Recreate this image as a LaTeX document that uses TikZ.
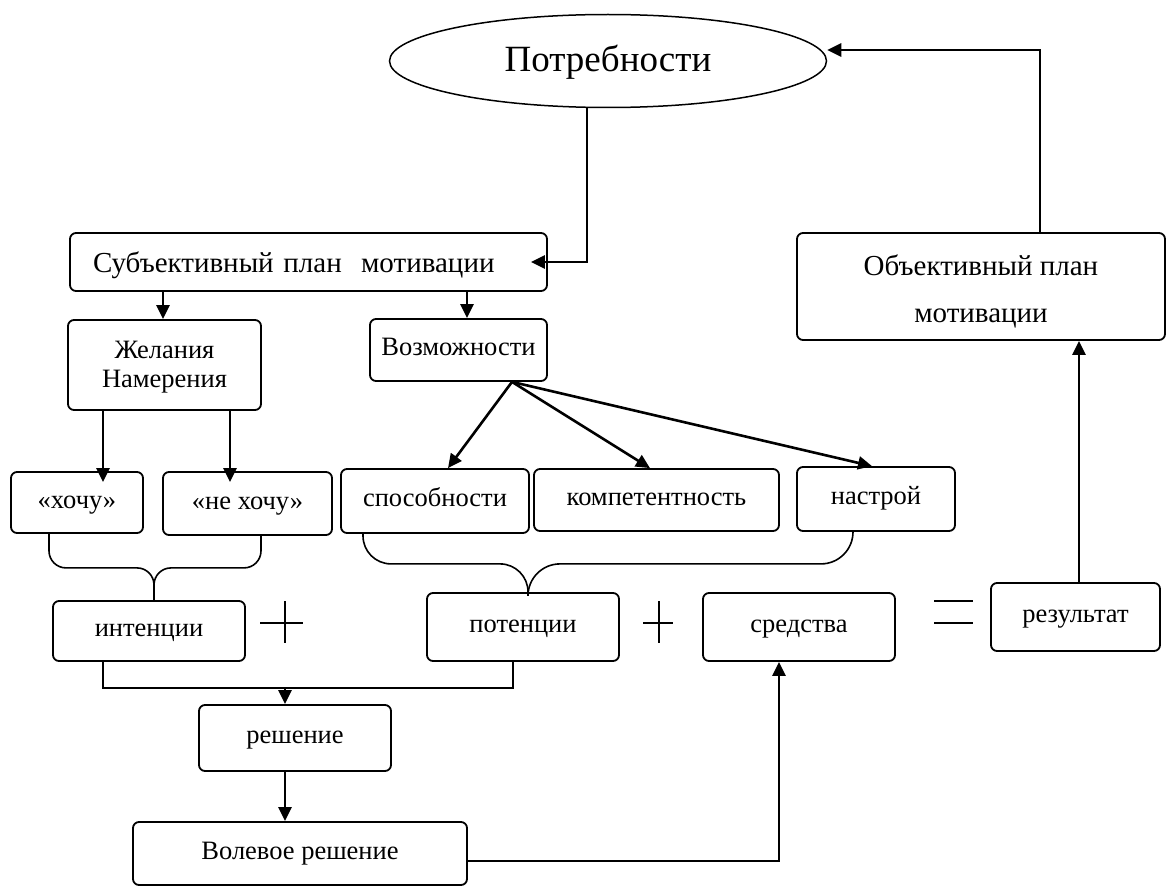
\documentclass[tikz,border=0pt]{standalone}
\usepackage{fontspec}
\setmainfont{Liberation Serif}
\usetikzlibrary{shapes.geometric}
\usetikzlibrary{arrows.meta}
\tikzset{
>={Triangle[length=14pt,width=13pt]}, % filled arrow tips
my node/.style={inner sep=0pt,font=\fontsize{26.5}{29}\selectfont},
my box/.style={draw,my node,rectangle,rounded corners=6pt,line width=1.8pt,align=center},
my label/.style={my box,text height=18pt,text depth=7pt},
my oval/.style={draw,my node,ellipse,line width=1.5pt,font=\fontsize{37}{40}\selectfont,
  text height=24pt,text depth=2pt},
my arrow/.style={->,line width=2.6pt},
my line/.style={line width=2pt},
my brace/.style={line width=1.6pt,rounded corners=#1},
my sign/.style={line width=1.6pt},
}

\begin{document}
\begin{tikzpicture}[x=1pt,y=-1pt]
\useasboundingbox (0,0) rectangle (1168,888);
% top row
\node[my oval,minimum width=437pt,minimum height=93pt] (need) at (608,61) {Потребности};
\node[my box,text width=431pt,inner xsep=23pt,align=left,minimum height=58pt,
  font=\fontsize{29}{32}\selectfont,text height=20pt,text depth=0pt] (subj) at (308.5,262) {Субъективный план\ \ мотивации};
\node[my box,minimum width=368pt,minimum height=107pt,font=\fontsize{29}{47}\selectfont,
  text height=71pt,text depth=0pt] (obj) at (981,286.5) {Объективный план\\мотивации};
% second row
\node[my box,minimum width=193pt,minimum height=90pt,text height=44pt,text depth=0pt] (wish) at (164.5,365) {Желания\\Намерения};
\node[my label,minimum width=177pt,minimum height=62pt] (poss) at (458.5,350) {Возможности};
% third row
\node[my label,minimum width=132pt,minimum height=61pt] (want) at (77,502.5) {«хочу»};
\node[my label,minimum width=169pt,minimum height=63pt] (nowant) at (247.5,503.5) {«не хочу»};
\node[my label,minimum width=188pt,minimum height=64pt] (abil) at (435,501) {способности};
\node[my label,minimum width=245pt,minimum height=62pt] (comp) at (656.5,500) {компетентность};
\node[my label,minimum width=158pt,minimum height=64pt] (mood) at (876,499) {настрой};
% sum row
\node[my label,minimum width=192pt,minimum height=60pt] (intent) at (149,631) {интенции};
\node[my label,minimum width=192pt,minimum height=68pt] (potent) at (523,627) {потенции};
\node[my label,minimum width=192pt,minimum height=68pt] (means) at (799,627) {средства};
\node[my label,minimum width=169pt,minimum height=68pt] (result) at (1075.5,617) {результат};
% decisions
\node[my label,minimum width=192pt,minimum height=66pt] (decis) at (295,738) {решение};
\node[my label,minimum width=334pt,minimum height=63pt] (will) at (300,853.5) {Волевое решение};
\coordinate (meet) at (285,688);

% arrows
\draw[my arrow] ([xshift=-21pt]need.south) |- ([xshift=-17pt]subj.east);
\draw[my arrow] ([xshift=59pt]obj.north) |- ([yshift=11pt]need.east);
\draw[my arrow] ([xshift=-1.5pt]subj.south -| wish.north) -- ([xshift=-1.5pt]wish.north);
\draw[my arrow] ([xshift=8.5pt]subj.south -| poss.north) -- ([xshift=8.5pt]poss.north);
\draw[my arrow,shorten >=-11pt] ([xshift=-61.5pt]wish.south) -- ([xshift=26pt]want.north);
\draw[my arrow,shorten >=-11pt] ([xshift=65.5pt]wish.south) -- ([xshift=-17.5pt]nowant.north);
\draw[my arrow] ([xshift=53.5pt]poss.south) -- ([xshift=13pt]abil.north);
\draw[my arrow] ([xshift=53.5pt]poss.south) -- ([xshift=-6.5pt]comp.north);
\draw[my arrow] ([xshift=53.5pt]poss.south) -- ([xshift=-4pt]mood.north);

% braces
\draw[my brace=17pt] ([xshift=-28pt]want.south) -- ++(0,34) -| ([xshift=5pt]intent.north);
\draw[my brace=17pt] ([xshift=13.5pt]nowant.south) -- ++(0,32) -| ([xshift=5pt]intent.north);
\draw[my brace=28pt] ([xshift=-72pt]abil.south) -- ++(0,30) -| ([xshift=5pt]potent.north);
\draw[my brace=32pt] ([xshift=-23pt]mood.south) -- ++(0,32) -| ([xshift=5pt]potent.north);

% plus and equals
\draw[my sign] (260,623) -- (303,623) (285,601) -- (285,643);
\draw[my sign] (643,623) -- (673,623) (659,601) -- (659,643);
\draw[my sign] (934,601) -- (973,601) (934,623) -- (973,623);

% towards the decision
\draw[my line] ([xshift=-46pt]intent.south) |- (meet) -| ([xshift=-10pt]potent.south);
\draw[my arrow] (meet) -- ([xshift=-10pt]decis.north);
\draw[my arrow] ([xshift=-10pt]decis.south) -- ([xshift=-15pt]will.north);
\draw[my arrow] ([yshift=-7.5pt]will.east) -| ([xshift=-20pt]means.south);
\draw[my arrow] ([xshift=3.5pt]result.north) -- ([xshift=98pt]obj.south);
\end{tikzpicture}
\end{document}
